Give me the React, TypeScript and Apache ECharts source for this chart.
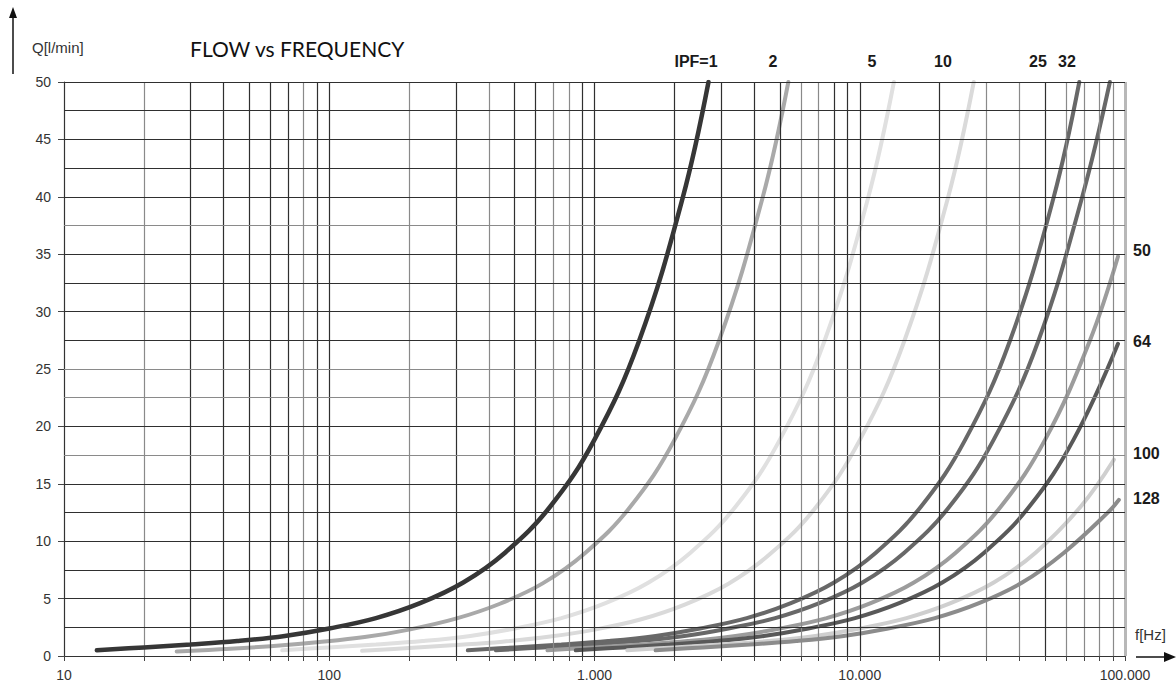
import React, { useEffect, useRef } from "react";
import * as echarts from "echarts";

// ---- data (f in Hz, Q in l/min) ----
const ipfNames = ["IPF=1", "IPF=2", "IPF=5", "IPF=10", "IPF=25", "IPF=32", "IPF=50", "IPF=64", "IPF=100", "IPF=128"];

const ipf1F = [13.3, 20, 30, 45, 68, 100, 150, 220, 320, 460, 680, 1000, 1470, 2150, 2690];
const ipf1Q = [0.5, 0.75, 1.0, 1.3, 1.75, 2.4, 3.3, 4.6, 6.4, 9.0, 13.0, 18.85, 27.4, 39.9, 50];

const ipf2F = [26.6, 40, 60, 90, 136, 200, 300, 440, 640, 920, 1360, 2000, 2940, 4300, 5380];
const ipf2Q = [0.4, 0.6, 0.85, 1.2, 1.65, 2.3, 3.25, 4.55, 6.35, 8.95, 12.95, 18.8, 27.4, 39.9, 50];

const ipf5F = [66.5, 100, 150, 225, 340, 500, 750, 1100, 1600, 2300, 3400, 5000, 7350, 10750, 13450];
const ipf5Q = [0.5, 0.75, 1.0, 1.3, 1.75, 2.4, 3.3, 4.6, 6.4, 9.0, 13.0, 18.85, 27.4, 39.9, 50];

const ipf10F = [133, 200, 300, 450, 680, 1000, 1500, 2200, 3200, 4600, 6800, 10000, 14700, 21500, 26900];
const ipf10Q = [0.45, 0.7, 0.95, 1.25, 1.7, 2.3, 3.2, 4.5, 6.3, 8.9, 12.9, 18.8, 27.4, 39.9, 50];

const ipf25F = [333, 500, 750, 1125, 1700, 2500, 3750, 5500, 8000, 11500, 17000, 25000, 36750, 53750, 67250];
const ipf25Q = [0.5, 0.75, 1.0, 1.3, 1.75, 2.4, 3.3, 4.6, 6.4, 9.0, 13.0, 18.85, 27.4, 39.9, 50];

const ipf32F = [425, 640, 960, 1440, 2180, 3200, 4800, 7040, 10240, 14720, 21760, 32000, 47040, 68800, 87700];
const ipf32Q = [0.5, 0.75, 1.0, 1.3, 1.75, 2.4, 3.3, 4.6, 6.4, 9.0, 13.0, 18.85, 27.4, 39.9, 50];

const ipf50F = [665, 1000, 1500, 2250, 3400, 5000, 7500, 11000, 16000, 23000, 34000, 50000, 73500, 94100];
const ipf50Q = [0.5, 0.75, 1.0, 1.3, 1.75, 2.4, 3.3, 4.6, 6.4, 9.0, 13.0, 18.85, 27.4, 34.8];

const ipf64F = [850, 1280, 1920, 2880, 4350, 6400, 9600, 14080, 20480, 29440, 43520, 64000, 94100];
const ipf64Q = [0.5, 0.75, 1.0, 1.3, 1.75, 2.4, 3.3, 4.6, 6.4, 9.0, 13.0, 18.85, 27.2];

const ipf100F = [1330, 2000, 3000, 4500, 6800, 10000, 15000, 22000, 32000, 46000, 68000, 90800];
const ipf100Q = [0.5, 0.75, 1.0, 1.3, 1.75, 2.4, 3.3, 4.6, 6.4, 9.0, 13.0, 17.1];

const ipf128F = [1700, 2560, 3840, 5760, 8700, 12800, 19200, 28160, 40960, 58880, 87040, 94800];
const ipf128Q = [0.5, 0.75, 1.0, 1.3, 1.75, 2.4, 3.3, 4.6, 6.4, 9.0, 12.6, 13.6];

const xTickValues = [10, 100, 1000, 10000, 100000];
const xTickLabels = ["10", "100", "1.000", "10.000", "100.000"];
const yMin = 0;
const yMax = 50;
const yInterval = 5;

const topLabels = ["IPF=1", "2", "5", "10", "25", "32"];
const rightLabels = ["50", "64", "100", "128"];

// ---- styling ----
const seriesColors = ["#363636", "#a9a9a9", "#e0e0e0", "#dadada", "#686868", "#686868", "#9c9c9c", "#595959", "#cfcfcf", "#8c8c8c"];
const seriesWidths = [4.5, 4, 4, 4, 4, 4, 4, 4, 4, 4];
const topLabelX = [696, 773, 872, 943, 1038, 1067];
const rightLabelY = [250, 341, 453, 498];
const xLightLines = [20, 80, 200, 400, 700, 800, 6000, 7000, 30000, 40000, 60000, 70000, 80000, 90000];
const yLightLines = [17.5, 22.5, 25, 37.5];

function pairs(f: number[], q: number[]) {
  return f.map((v, i) => [v, q[i]]);
}

export default function App() {
  const ref = useRef<HTMLDivElement>(null);

  useEffect(() => {
    if (!ref.current) return;
    const chart = echarts.init(ref.current, undefined, { renderer: "svg" });

    const allF = [ipf1F, ipf2F, ipf5F, ipf10F, ipf25F, ipf32F, ipf50F, ipf64F, ipf100F, ipf128F];
    const allQ = [ipf1Q, ipf2Q, ipf5Q, ipf10Q, ipf25Q, ipf32Q, ipf50Q, ipf64Q, ipf100Q, ipf128Q];

    // grid line values
    const xGrid: number[] = [];
    for (let d = 10; d < 100000; d *= 10) {
      for (let m = 1; m <= 9; m++) {
        const v = d * m;
        if (v > 10) xGrid.push(v);
      }
    }
    const yGrid: number[] = [];
    for (let v = 2.5; v <= yMax + 0.001; v += 2.5) yGrid.push(v);

    const darkGrid = "#2f2f2f";
    const lightGrid = "#8a8a8a";
    const gridLineData: any[] = [];
    xGrid.forEach((v) => {
      gridLineData.push({
        xAxis: v,
        lineStyle: { color: xLightLines.includes(v) ? lightGrid : darkGrid, width: 1.2, type: "solid" },
      });
    });
    gridLineData.push({ xAxis: 100000, lineStyle: { color: "#b8b8b8", width: 3, type: "solid" } });
    yGrid.forEach((v) => {
      gridLineData.push({
        yAxis: v,
        lineStyle: { color: yLightLines.includes(v) ? lightGrid : darkGrid, width: 1.2, type: "solid" },
      });
    });

    const curveSeries = ipfNames.map((name, i) => ({
      name,
      type: "line",
      data: pairs(allF[i], allQ[i]),
      smooth: 0.4,
      showSymbol: false,
      symbol: "none",
      silent: true,
      z: 3 + (i === 0 ? 10 : 0),
      lineStyle: { color: seriesColors[i], width: seriesWidths[i], cap: "round" },
      itemStyle: { color: seriesColors[i] },
    }));

    const textStyleBold = { fontFamily: "Liberation Sans", fontWeight: "bold", fontSize: 16, fill: "#1a1a1a" };

    const graphics: any[] = [
      {
        type: "text",
        x: 190,
        y: 48,
        style: { text: "FLOW vs FREQUENCY", fontFamily: "Lato", fontSize: 21, fill: "#111", verticalAlign: "middle" },
      },
      {
        type: "text",
        x: 32,
        y: 47,
        style: { text: "Q[l/min]", fontFamily: "Liberation Sans", fontSize: 15, fill: "#333", verticalAlign: "middle" },
      },
      {
        type: "text",
        x: 1135,
        y: 634,
        style: { text: "f[Hz]", fontFamily: "Liberation Sans", fontSize: 15, fill: "#333", verticalAlign: "middle" },
      },
      { type: "line", shape: { x1: 13, y1: 74, x2: 13, y2: 15 }, style: { stroke: "#111", lineWidth: 1.5 } },
      { type: "polygon", shape: { points: [[13, 7], [9, 18], [17, 18]] }, style: { fill: "#111" } },
      { type: "line", shape: { x1: 1136, y1: 657, x2: 1166, y2: 657 }, style: { stroke: "#111", lineWidth: 1.5 } },
      { type: "polygon", shape: { points: [[1176, 657], [1164, 652], [1164, 662]] }, style: { fill: "#111" } },
    ];
    topLabels.forEach((t, i) => {
      graphics.push({
        type: "text",
        x: topLabelX[i],
        y: 61,
        style: { ...textStyleBold, text: t, align: "center", verticalAlign: "middle" },
      });
    });
    rightLabels.forEach((t, i) => {
      graphics.push({
        type: "text",
        x: 1133,
        y: rightLabelY[i],
        style: { ...textStyleBold, text: t, align: "left", verticalAlign: "middle" },
      });
    });

    chart.setOption({
      animation: false,
      backgroundColor: "#ffffff",
      grid: { left: 64, right: 51, top: 82, bottom: 33, containLabel: false, outerBoundsMode: "none" },
      xAxis: {
        type: "log",
        logBase: 10,
        min: 10,
        max: 100000,
        axisLine: { show: true, lineStyle: { color: "#333", width: 1.2 } },
        axisTick: { show: true, length: 5, inside: false, lineStyle: { color: "#444" }, customValues: [10, ...xGrid, 100000] },
        axisLabel: {
          show: true,
          margin: 12,
          color: "#333",
          fontFamily: "Liberation Sans",
          fontSize: 14,
          customValues: xTickValues,
          formatter: (v: number) => {
            const idx = xTickValues.findIndex((t) => Math.abs(Math.log10(t) - Math.log10(v)) < 1e-6);
            return idx >= 0 ? xTickLabels[idx] : "";
          },
        },
        splitLine: { show: false },
        minorTick: { show: false },
      },
      yAxis: {
        type: "value",
        min: yMin,
        max: yMax,
        interval: yInterval,
        axisLine: { show: true, lineStyle: { color: "#333", width: 1.2 } },
        axisTick: { show: true, length: 6, inside: false, lineStyle: { color: "#444" } },
        axisLabel: { margin: 13, color: "#333", fontFamily: "Liberation Sans", fontSize: 14 },
        splitLine: { show: false },
      },
      graphic: graphics,
      series: [
        {
          name: "grid",
          type: "line",
          data: [],
          z: 1,
          silent: true,
          markLine: {
            silent: true,
            symbol: ["none", "none"],
            label: { show: false },
            emphasis: { disabled: true },
            animation: false,
            data: gridLineData,
          },
        },
        ...curveSeries,
      ],
    });

    return () => chart.dispose();
  }, []);

  return <div ref={ref} style={{ position: "absolute", left: 0, top: 0, width: 1176, height: 689 }} />;
}
